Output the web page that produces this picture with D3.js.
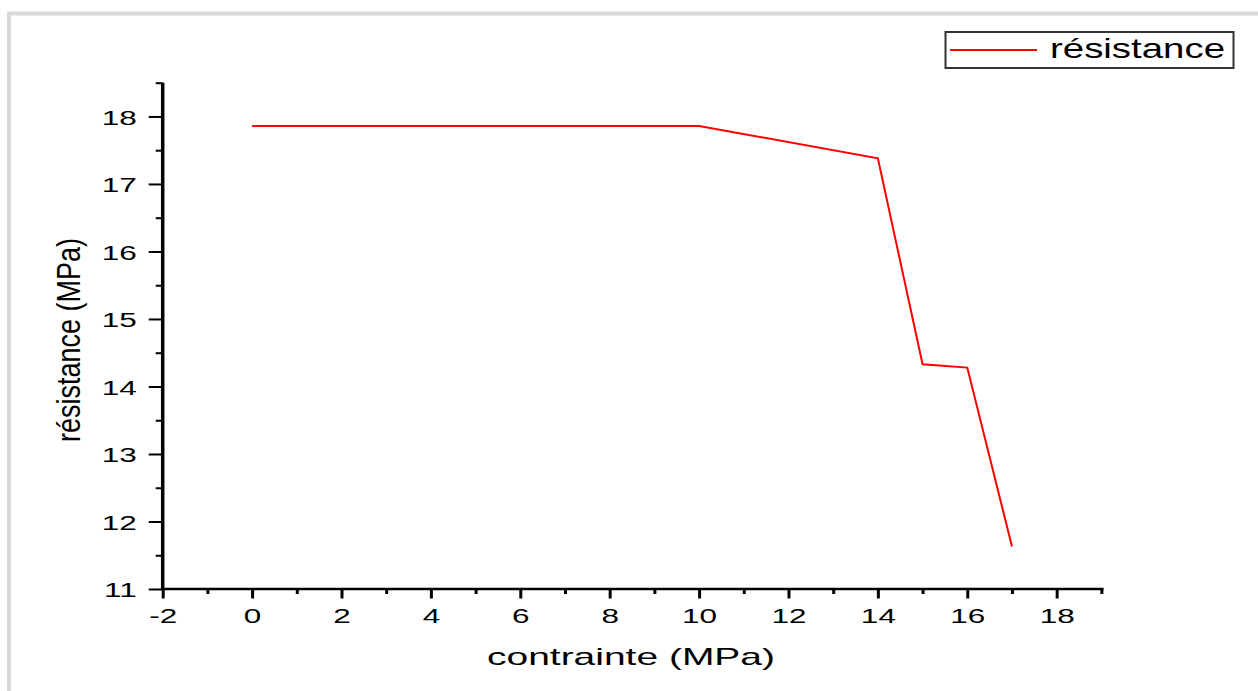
<!DOCTYPE html>
<html>
<head>
<meta charset="utf-8">
<script src="https://cdn.jsdelivr.net/npm/d3@7"></script>
<style>
  body { margin: 0; background: #fff; }
  svg text { font-family: "Liberation Sans", Arial, sans-serif; fill: #000; }
</style>
</head>
<body>
<div id="chart"></div>
<script>
// Data
let contrainte = [0, 10, 14, 15, 16, 17];
let resistance = [17.86, 17.86, 17.38, 14.33, 14.28, 11.63];
let xMajor = [-2, 0, 2, 4, 6, 8, 10, 12, 14, 16, 18];
let xMinor = [-1, 1, 3, 5, 7, 9, 11, 13, 15, 17, 19];
let yMajor = [11, 12, 13, 14, 15, 16, 17, 18];
let yMinor = [11.5, 12.5, 13.5, 14.5, 15.5, 16.5, 17.5, 18.5];
let seriesName = "résistance";
let xTitle = "contrainte (MPa)";
let yTitle = "résistance (MPa)";

let W = 1258, H = 691;
let plot = {left: 162.7, right: 1103.6, top: 82.7, bottom: 589};

let svg = d3.select("#chart").append("svg")
    .attr("width", W)
    .attr("height", H);

// grey outer frame (only left and top edges show)
svg.append("rect")
    .attr("x", 9).attr("y", 13.5)
    .attr("width", W + 50).attr("height", H + 50)
    .attr("fill", "#fff")
    .attr("stroke", "#d9d9d9")
    .attr("stroke-width", 4);

let x = d3.scaleLinear().domain([-2, 19.05]).range([plot.left, plot.right]);
let y = d3.scaleLinear().domain([11, 18.5]).range([plot.bottom, plot.top]);

let stretch = 1.5; // the picture's text is wide
let plain = function(d) { return String(d); }; // keep "-2" with a hyphen

// X axis: minor ticks then major ticks
let gxMinor = svg.append("g")
    .attr("transform", "translate(0," + plot.bottom + ")")
    .call(d3.axisBottom(x).tickValues(xMinor).tickSize(5).tickFormat(""));
let gx = svg.append("g")
    .attr("transform", "translate(0," + plot.bottom + ")")
    .call(d3.axisBottom(x).tickValues(xMajor).tickSize(9.5).tickSizeOuter(0).tickFormat(plain));
gxMinor.select(".domain").remove();
gx.select(".domain").attr("d", "M" + plot.left + ",0H" + plot.right).attr("stroke-width", 2.5);
svg.selectAll("g").selectAll(".tick line").attr("stroke", "#000").attr("stroke-width", 3);
gx.selectAll(".tick text")
    .attr("y", 0).attr("dy", 0)
    .attr("transform", "translate(0,34) scale(" + stretch + ",1)")
    .style("font-size", "21px");

// Y axis
let gyMinor = svg.append("g")
    .attr("transform", "translate(" + plot.left + ",0)")
    .call(d3.axisLeft(y).tickValues(yMinor).tickSize(7).tickFormat(""));
let gy = svg.append("g")
    .attr("transform", "translate(" + plot.left + ",0)")
    .call(d3.axisLeft(y).tickValues(yMajor).tickSize(14).tickSizeOuter(0).tickFormat(plain));
gyMinor.select(".domain").remove();
gyMinor.selectAll(".tick line").attr("stroke", "#000").attr("stroke-width", 2);
gy.select(".domain").attr("d", "M0," + plot.bottom + "V" + plot.top).attr("stroke-width", 3.5);
gy.selectAll(".tick line").attr("stroke", "#000").attr("stroke-width", 2);
gy.selectAll(".tick text")
    .attr("x", 0).attr("dy", "0.36em")
    .attr("transform", "translate(-26,0) scale(" + stretch + ",1)")
    .style("font-size", "21px");

svg.selectAll(".domain").attr("stroke", "#000");

// the curve
let line = d3.line()
    .x(function(d, i) { return x(contrainte[i]); })
    .y(function(d) { return y(d); });

svg.append("path")
    .datum(resistance)
    .attr("fill", "none")
    .attr("stroke", "#ff0000")
    .attr("stroke-width", 2)
    .attr("d", line);

// axis titles
svg.append("text")
    .attr("x", 631).attr("y", 665)
    .attr("text-anchor", "middle")
    .attr("textLength", 288)
    .attr("lengthAdjust", "spacingAndGlyphs")
    .style("font-size", "24px")
    .text(xTitle);

svg.append("text")
    .attr("transform", "translate(80,340) scale(1.2,1) rotate(-90)")
    .attr("text-anchor", "middle")
    .attr("textLength", 204)
    .attr("lengthAdjust", "spacingAndGlyphs")
    .style("font-size", "27px")
    .text(yTitle);

// legend
let legend = svg.append("g");
legend.append("rect")
    .attr("x", 945.5).attr("y", 32)
    .attr("width", 288).attr("height", 36)
    .attr("fill", "#fff")
    .attr("stroke", "#333")
    .attr("stroke-width", 2);
legend.append("line")
    .attr("x1", 950).attr("x2", 1037)
    .attr("y1", 50).attr("y2", 50)
    .attr("stroke", "#ff0000")
    .attr("stroke-width", 2);
legend.append("text")
    .attr("x", 1050).attr("y", 57.5)
    .attr("textLength", 175)
    .attr("lengthAdjust", "spacingAndGlyphs")
    .style("font-size", "28px")
    .text(seriesName);
</script>
</body>
</html>
